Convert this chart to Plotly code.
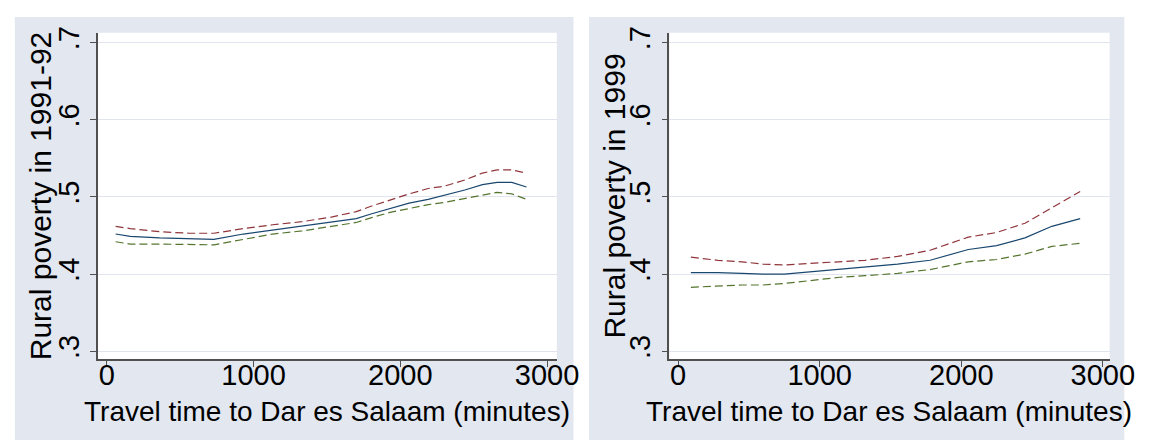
import plotly.graph_objects as go

# ---------------- data ----------------
x_9192 = [60, 160, 360, 560, 730, 930, 1130, 1330, 1530, 1700, 1800, 1930, 2060, 2190, 2300, 2440, 2560, 2660, 2760, 2860]
fit_9192 = [0.452, 0.449, 0.447, 0.446, 0.445, 0.452, 0.457, 0.462, 0.467, 0.472, 0.478, 0.485, 0.492, 0.497, 0.502, 0.509, 0.516, 0.519, 0.519, 0.513]
upper_9192 = [0.462, 0.459, 0.455, 0.453, 0.453, 0.459, 0.464, 0.468, 0.474, 0.481, 0.488, 0.496, 0.504, 0.511, 0.514, 0.522, 0.531, 0.535, 0.535, 0.531]
lower_9192 = [0.442, 0.439, 0.439, 0.438, 0.438, 0.445, 0.452, 0.456, 0.462, 0.467, 0.473, 0.480, 0.485, 0.490, 0.493, 0.498, 0.503, 0.506, 0.504, 0.497]

x_1999 = [90, 280, 450, 600, 750, 950, 1140, 1320, 1550, 1780, 2050, 2250, 2450, 2640, 2840]
fit_1999 = [0.402, 0.402, 0.401, 0.400, 0.400, 0.403, 0.406, 0.409, 0.413, 0.418, 0.432, 0.437, 0.447, 0.462, 0.472]
upper_1999 = [0.422, 0.418, 0.416, 0.413, 0.412, 0.414, 0.416, 0.418, 0.423, 0.431, 0.448, 0.454, 0.466, 0.486, 0.507]
lower_1999 = [0.383, 0.385, 0.386, 0.386, 0.388, 0.392, 0.396, 0.398, 0.401, 0.406, 0.416, 0.419, 0.426, 0.436, 0.440]

y_ticks = [0.3, 0.4, 0.5, 0.6, 0.7]
y_tick_text = [".3", ".4", ".5", ".6", ".7"]
x_ticks = [0, 1000, 2000, 3000]
x_tick_text = ["0", "1000", "2000", "3000"]

x_title = "Travel time to Dar es Salaam (minutes)"
y_titles = ["Rural poverty in 1991-92", "Rural poverty in 1999"]

# ---------------- style ----------------
W, H = 1154, 440
FONT = "Arial, Liberation Sans, sans-serif"
FS_TICK = 29
FS_XT = 28
FS_YT = 30
PANEL = "#e2e7f0"
GRID = "#dfe4ee"
AXIS = "#505050"
C_FIT = "#1a476f"
C_UP = "#90353b"
C_LO = "#55752f"
DASH = "8px,4px"

def px(v):
    return v / W

def py(v):
    return 1 - v / H

fig = go.Figure()

panels = [
    dict(x=x_9192, fit=fit_9192, up=upper_9192, lo=lower_9192, xa="x", ya="y"),
    dict(x=x_1999, fit=fit_1999, up=upper_1999, lo=lower_1999, xa="x2", ya="y2"),
]
for p in panels:
    fig.add_trace(go.Scatter(x=p["x"], y=p["up"], mode="lines", xaxis=p["xa"], yaxis=p["ya"],
                             line=dict(color=C_UP, width=1.2, dash=DASH), showlegend=False))
    fig.add_trace(go.Scatter(x=p["x"], y=p["lo"], mode="lines", xaxis=p["xa"], yaxis=p["ya"],
                             line=dict(color=C_LO, width=1.2, dash=DASH), showlegend=False))
    fig.add_trace(go.Scatter(x=p["x"], y=p["fit"], mode="lines", xaxis=p["xa"], yaxis=p["ya"],
                             line=dict(color=C_FIT, width=1.2), showlegend=False))

plot_boxes = [(92, 561), (676, 1126)]
y_top, y_bot = 19, 350
x_ranges = [[-60, 3067], [-62, 3048]]
y_range = [0.2898, 0.7128]

common_x = dict(tickmode="array", tickvals=x_ticks, ticktext=x_tick_text, ticks="outside", ticklen=6,
                tickcolor=AXIS, tickwidth=1, showline=True, linecolor=AXIS, linewidth=1.5,
                showgrid=False, zeroline=False, ticklabelstandoff=-17,
                tickfont=dict(family=FONT, size=FS_TICK, color="black"))
common_y = dict(tickmode="array", tickvals=y_ticks, ticktext=y_tick_text, ticks="outside", ticklen=6,
                tickcolor=AXIS, tickwidth=1, showline=True, linecolor=AXIS, linewidth=1.5,
                showgrid=True, gridcolor=GRID, gridwidth=1, zeroline=False, tickangle=-90,
                tickfont=dict(family=FONT, size=FS_TICK, color="black"), range=y_range)

fig.update_layout(
    xaxis=dict(domain=[px(plot_boxes[0][0]), px(plot_boxes[0][1])], range=x_ranges[0], anchor="y", **common_x),
    yaxis=dict(domain=[py(y_bot), py(y_top)], anchor="x", **common_y),
    xaxis2=dict(domain=[px(plot_boxes[1][0]), px(plot_boxes[1][1])], range=x_ranges[1], anchor="y2", **common_x),
    yaxis2=dict(domain=[py(y_bot), py(y_top)], anchor="x2", **common_y),
)

shapes = []
for (x0, x1) in [(7, 578), (594, 1141)]:
    shapes.append(dict(type="rect", xref="paper", yref="paper", x0=px(x0), x1=px(x1), y0=py(437), y1=py(3),
                       fillcolor=PANEL, line=dict(width=0), layer="below"))
for (x0, x1) in plot_boxes:
    shapes.append(dict(type="rect", xref="paper", yref="paper", x0=px(x0), x1=px(x1), y0=py(y_bot), y1=py(y_top),
                       fillcolor="white", line=dict(width=0), layer="below"))

annotations = []
for (x0, x1) in plot_boxes:
    annotations.append(dict(text=x_title, xref="paper", yref="paper", x=px((x0 + x1) / 2), y=py(403),
                            xanchor="center", yanchor="middle", showarrow=False,
                            font=dict(family=FONT, size=FS_XT, color="black")))
for (xc, t) in zip([34, 620], y_titles):
    annotations.append(dict(text=t, xref="paper", yref="paper", x=px(xc), y=py((y_top + y_bot) / 2),
                            xanchor="center", yanchor="middle", textangle=-90, showarrow=False,
                            font=dict(family=FONT, size=FS_YT, color="black")))

fig.update_layout(
    width=W, height=H, margin=dict(l=0, r=0, t=0, b=0),
    paper_bgcolor="white", plot_bgcolor="rgba(0,0,0,0)",
    shapes=shapes, annotations=annotations, showlegend=False,
)

fig.write_html("out.html")
